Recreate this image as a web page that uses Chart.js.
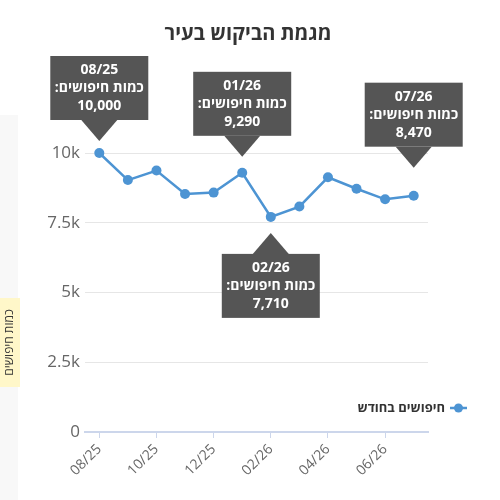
<!DOCTYPE html>
<html lang="he">
<head>
<meta charset="utf-8">
<script src="https://cdn.jsdelivr.net/npm/chart.js@4.4.0/dist/chart.umd.min.js"></script>
<style>
  body { margin: 0; background: #fff; }
  canvas { display: block; }
</style>
</head>
<body>
<canvas id="trendChart" width="500" height="500"></canvas>
<script>
const months = ['08/25', '09/25', '10/25', '11/25', '12/25', '01/26', '02/26', '03/26', '04/26', '05/26', '06/26', '07/26'];
const searches = [10000, 9030, 9370, 8530, 8580, 9290, 7710, 8080, 9130, 8720, 8340, 8470];
const yTicks = [0, 2500, 5000, 7500, 10000];
const yTickLabels = ['0', '2.5k', '5k', '7.5k', '10k'];

// callouts pinned to some months
const calloutIndex = [0, 5, 6, 11];
const calloutBelow = [false, false, true, false];
const calloutGap = [12, 16, 16, 28];

const chartTitle = 'מגמת הביקוש בעיר';
const yTitle = 'כמות חיפושים';
const seriesName = 'חיפושים בחודש';
const calloutLabel = 'כמות חיפושים:';

const fontFamily = '"Open Sans", "DejaVu Sans", sans-serif';
const lineColor = '#4d94d3';

const extrasPlugin = {
  id: 'extras',
  beforeDraw(chart) {
    let ctx = chart.ctx;
    ctx.save();
    // title, centred on the whole canvas
    ctx.fillStyle = '#333';
    ctx.font = 'bold 20px ' + fontFamily;
    ctx.textAlign = 'center';
    ctx.textBaseline = 'middle';
    ctx.direction = 'rtl';
    ctx.fillText(chartTitle, 248, 34);

    ctx.fillStyle = '#f8f8f8';
    ctx.fillRect(0, 115, 18, 385);
    ctx.fillStyle = '#fff7c9';
    ctx.fillRect(0, 298, 20, 89);
    ctx.translate(10, 342.5);
    ctx.rotate(-Math.PI / 2);
    ctx.fillStyle = '#333';
    ctx.font = '12px ' + fontFamily;
    ctx.fillText(yTitle, 0, 0);
    ctx.restore();
  },
  afterDatasetsDraw(chart) {
    let ctx = chart.ctx;
    let xs = chart.scales.x;
    let ys = chart.scales.y;
    let boxW = 98, boxH = 64, caretW = 18, caretH = 21;

    calloutIndex.forEach((idx, k) => {
      let px = xs.getPixelForValue(idx);
      let py = ys.getPixelForValue(searches[idx]);
      let below = calloutBelow[k];
      let tip = below ? py + calloutGap[k] : py - calloutGap[k];
      let base = below ? tip + caretH : tip - caretH;
      let top = below ? base : base - boxH;

      ctx.save();
      ctx.fillStyle = '#555555';
      ctx.fillRect(px - boxW / 2, top, boxW, boxH);
      ctx.beginPath();
      ctx.moveTo(px - caretW, base);
      ctx.lineTo(px, tip);
      ctx.lineTo(px + caretW, base);
      ctx.closePath();
      ctx.fill();

      ctx.fillStyle = '#fff';
      ctx.font = 'bold 14px ' + fontFamily;
      ctx.textAlign = 'center';
      ctx.textBaseline = 'middle';
      ctx.direction = 'rtl';
      let mid = top + boxH / 2;
      ctx.fillText(months[idx], px, mid - 18);
      ctx.fillText(calloutLabel, px, mid);
      ctx.fillText(searches[idx].toLocaleString('en-US'), px, mid + 18);
      ctx.restore();
    });

    // legend
    ctx.save();
    ctx.strokeStyle = lineColor;
    ctx.lineWidth = 2.5;
    ctx.beginPath();
    ctx.moveTo(450, 408);
    ctx.lineTo(467, 408);
    ctx.stroke();
    ctx.fillStyle = lineColor;
    ctx.beginPath();
    ctx.arc(458.5, 408, 4.5, 0, Math.PI * 2);
    ctx.fill();
    ctx.fillStyle = '#333';
    ctx.font = 'bold 13px ' + fontFamily;
    ctx.textAlign = 'right';
    ctx.textBaseline = 'middle';
    ctx.direction = 'rtl';
    ctx.fillText(seriesName, 445, 408);
    ctx.restore();
  }
};

let trendChart = new Chart(document.getElementById('trendChart').getContext('2d'), {
  type: 'line',
  data: {
    labels: months,
    datasets: [{
      label: seriesName,
      data: searches,
      borderColor: lineColor,
      backgroundColor: lineColor,
      borderWidth: 2.5,
      pointRadius: 5,
      pointBorderWidth: 0,
      pointBackgroundColor: lineColor,
      fill: false,
      clip: false,
      tension: 0
    }]
  },
  options: {
    responsive: false,
    animation: false,
    layout: { padding: { left: 0, right: 72, top: 153, bottom: 0 } },
    plugins: {
      legend: { display: false },
      tooltip: { enabled: false },
      title: { display: false }
    },
    scales: {
      x: {
        offset: true,
        grid: { offset: false, drawOnChartArea: false, drawTicks: true, tickLength: 6, color: '#ccd6eb' },
        border: { color: '#ccd6eb', width: 2 },
        ticks: {
          autoSkip: false,
          minRotation: 45,
          maxRotation: 45,
          color: '#666',
          font: { family: fontFamily, size: 14 },
          callback: function(val, i) {
            return i % 2 === 0 ? this.getLabelForValue(val) : null;
          }
        },
        afterFit: (scale) => { scale.height = 68; }
      },
      y: {
        min: 0,
        max: 10000,
        afterBuildTicks: (scale) => { scale.ticks = yTicks.map(v => ({ value: v })); },
        grid: { color: '#e6e6e6', drawTicks: false },
        border: { display: false },
        ticks: {
          padding: 5,
          color: '#666',
          font: { family: fontFamily, size: 17 },
          callback: (val) => yTickLabels[yTicks.indexOf(val)]
        },
        afterFit: (scale) => { scale.width = 85; }
      }
    }
  },
  plugins: [extrasPlugin]
});
</script>
</body>
</html>
